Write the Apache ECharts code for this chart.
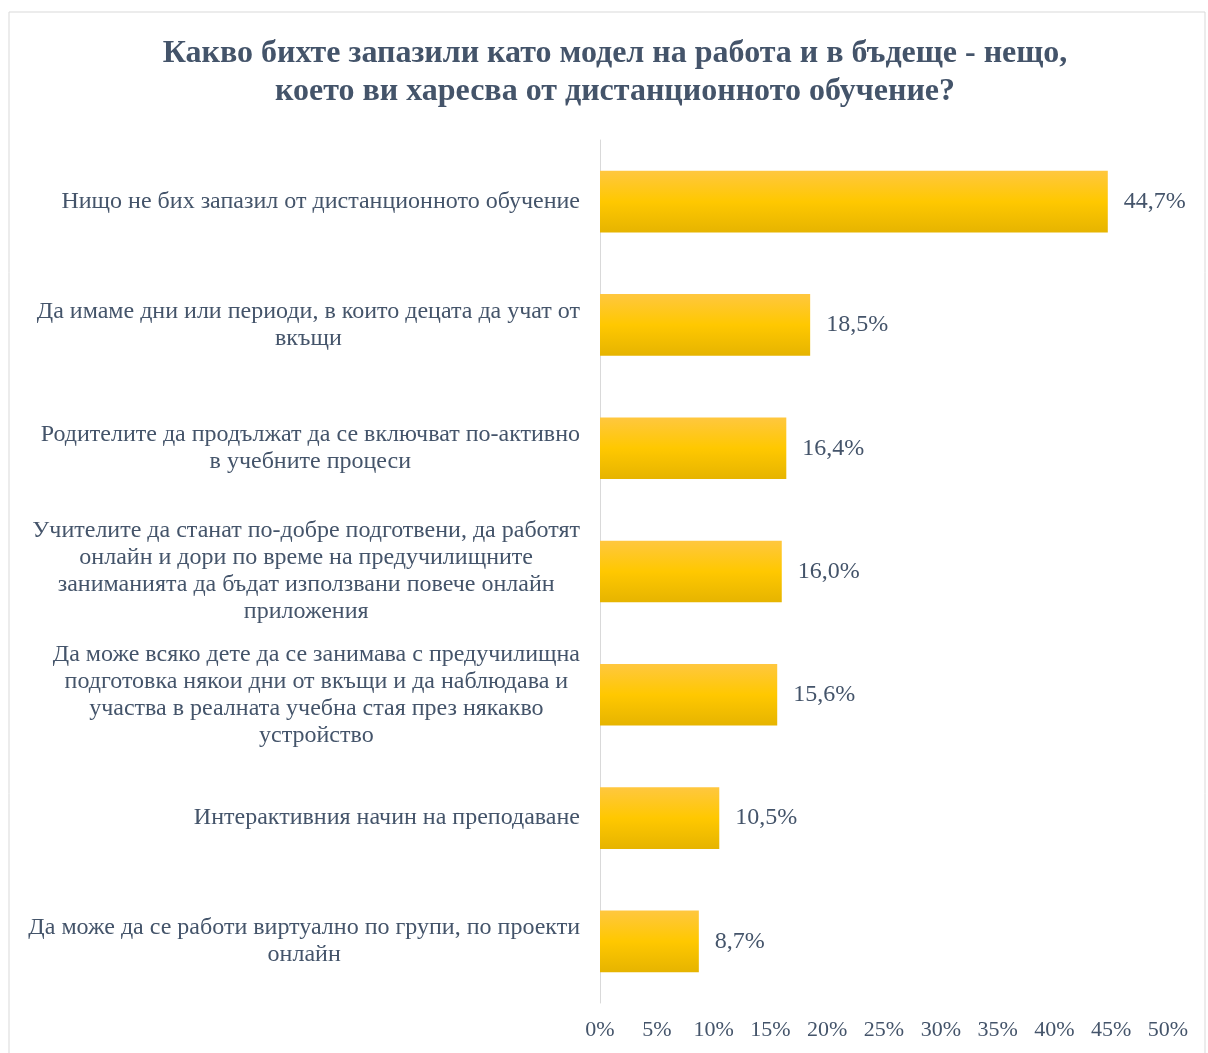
<!DOCTYPE html>
<html><head><meta charset="utf-8">
<script src="https://cdn.jsdelivr.net/npm/echarts@6/dist/echarts.min.js"></script>
<style>html,body{margin:0;padding:0;background:#fff}#c{width:1208px;height:1053px}</style>
</head><body><div id="c"></div>
<script>
const titleText = 'Какво бихте запазили като модел на работа и в бъдеще - нещо,\nкоето ви харесва от дистанционното обучение?';
const categories = [
  'Нищо не бих запазил от дистанционното обучение',
  'Да имаме дни или периоди, в които децата да учат от\nвкъщи',
  'Родителите да продължат да се включват по-активно\nв учебните процеси',
  'Учителите да станат по-добре подготвени, да работят\nонлайн и дори по време на предучилищните\nзаниманията да бъдат използвани повече онлайн\nприложения',
  'Да може всяко дете да се занимава с предучилищна\nподготовка някои дни от вкъщи и да наблюдава и\nучаства в реалната учебна стая през някакво\nустройство',
  'Интерактивния начин на преподаване',
  'Да може да се работи виртуално по групи, по проекти\nонлайн'
];
const values = [44.7, 18.5, 16.4, 16.0, 15.6, 10.5, 8.7];
const xTicks = [0, 5, 10, 15, 20, 25, 30, 35, 40, 45, 50];

const txt = '#44546a';
const serif = '"Liberation Serif", "Times New Roman", serif';
const chart = echarts.init(document.getElementById('c'), null, {renderer: 'canvas'});
chart.setOption({
  animation: false,
  backgroundColor: '#fff',
  title: {
    text: titleText, left: 610, textAlign: 'center', top: 30,
    textStyle: {fontFamily: serif, fontWeight: 'bold', fontSize: 32, color: txt, lineHeight: 38}
  },
  graphic: [{type: 'rect', shape: {x: 9, y: 12, width: 1196, height: 1060}, style: {fill: 'none', stroke: '#d9d9d9', lineWidth: 1}, silent: true}],
  grid: {left: 600, right: 40, top: 140, bottom: 50, containLabel: false},
  xAxis: {
    type: 'value', min: xTicks[0], max: xTicks[xTicks.length - 1], interval: 5,
    axisLine: {show: false}, axisTick: {show: false}, splitLine: {show: false},
    axisLabel: {margin: 16, fontFamily: serif, fontSize: 22, color: txt, formatter: v => v + '%'}
  },
  yAxis: {
    type: 'category', inverse: true, data: categories,
    axisLine: {lineStyle: {color: '#d9d9d9', width: 1}}, axisTick: {show: false},
    axisLabel: {
      margin: 20, color: txt, fontFamily: serif, fontSize: 24, lineHeight: 27,
      formatter: v => v.split('\n').map(l => '{c|' + l + '}').join('\n'),
      rich: {c: {align: 'center', fontFamily: serif, fontSize: 24, lineHeight: 27, color: txt}}
    }
  },
  series: [{
    type: 'bar', data: values, barWidth: '50%',
    itemStyle: {color: new echarts.graphic.LinearGradient(0, 0, 0, 1, [
      {offset: 0, color: '#ffc73f'}, {offset: 0.5, color: '#ffc800'}, {offset: 1, color: '#e6b400'}
    ])},
    label: {show: true, position: 'right', distance: 16, fontFamily: serif, fontSize: 24, color: txt,
      formatter: p => p.value.toFixed(1).replace('.', ',') + '%'}
  }]
});
</script></body></html>
